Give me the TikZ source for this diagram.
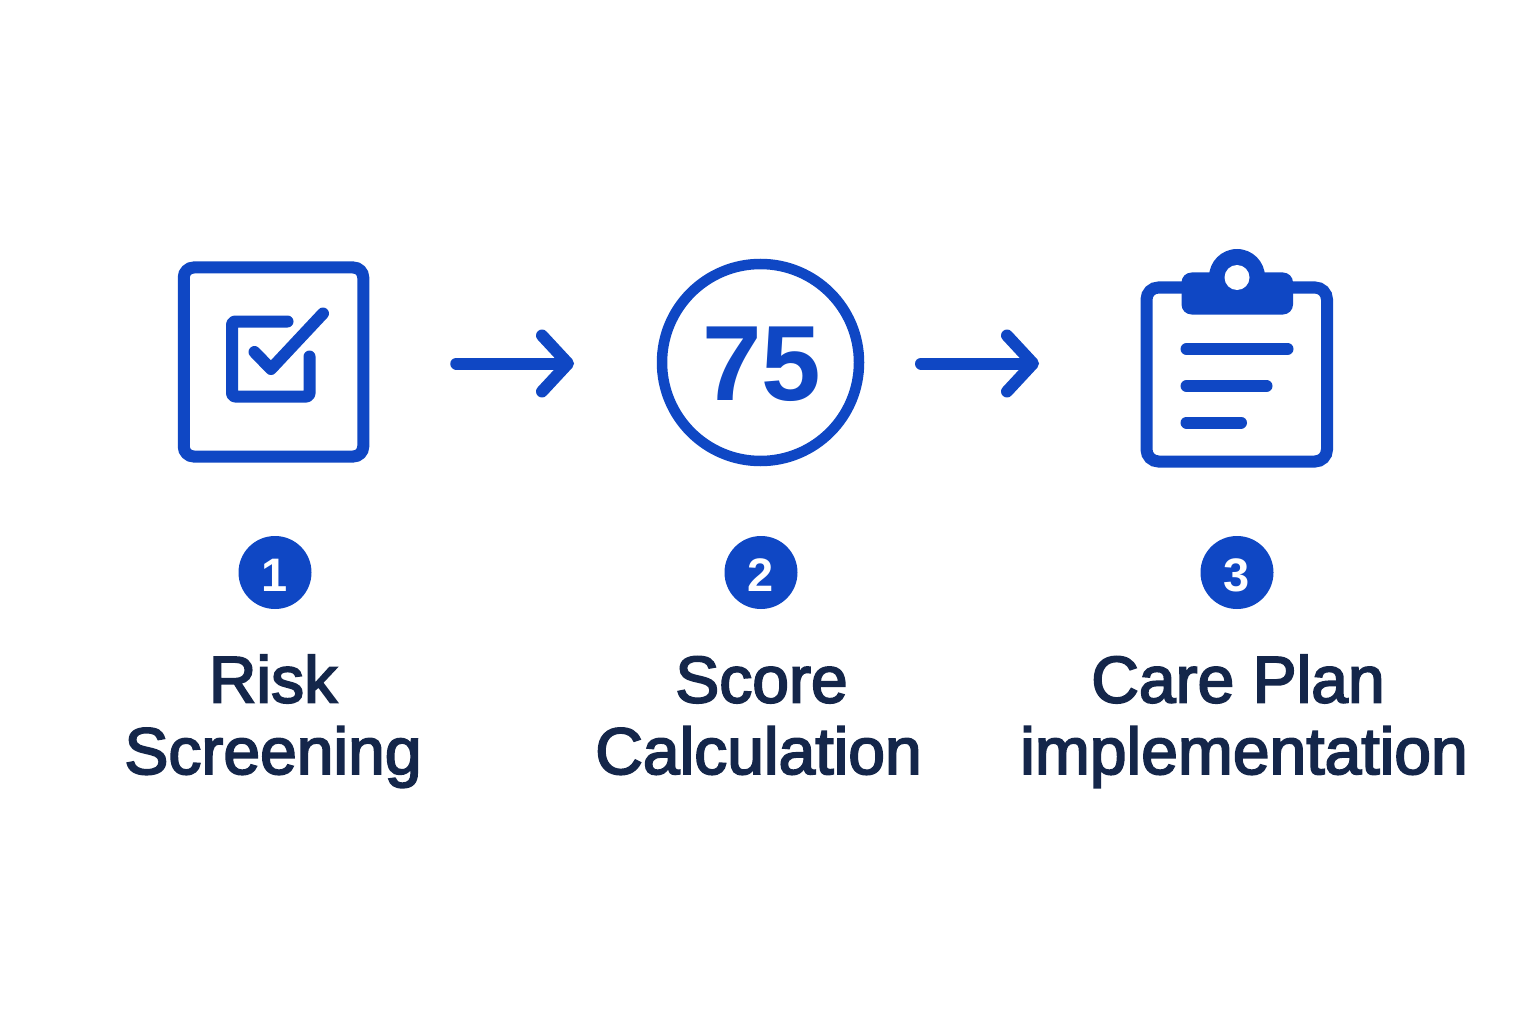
\documentclass[tikz,border=0pt]{standalone}
\usepackage{fontspec}
\setmainfont{Liberation Sans}
\newfontfamily\labelfont[FakeBold=2.8]{Liberation Sans}
\usetikzlibrary{arrows.meta}
\definecolor{brand}{HTML}{0F47C4}
\definecolor{ink}{HTML}{14264A}
\tikzset{
  x=1pt,y=-1pt,
  icon/.style={draw=brand,line width=12pt,fill=white,inner sep=0pt,outer sep=0pt},
  glyph/.style={draw=brand,line width=12pt,line cap=round,line join=round},
  flow/.style={draw=brand,line width=12pt,line cap=round,
    -{Straight Barb[length=26pt,width=56pt,round]}},
  badge/.style={circle,fill=brand,text=white,minimum size=73pt,inner sep=0pt,
    text height=37pt,text depth=0pt,
    font=\fontsize{47}{47}\selectfont\bfseries},
  caption/.style={text=ink,align=center,inner sep=0pt,anchor=base,
    font=\fontsize{66}{71.5}\selectfont\labelfont},
}
\begin{document}
\begin{tikzpicture}
\useasboundingbox (0,0) rectangle (1536,1024);
\fill[white] (0,0) rectangle (1536,1024);
% step 1 icon
\node[icon,rectangle,rounded corners=10pt,minimum width=179.5pt,minimum height=189pt] (check) at (273.5,362) {};
\draw[glyph,rounded corners=3pt] (287.5,321.5) -- (232,321.5) -- (232,396.5) -- (309.5,396.5) -- (309.5,356.5);
\draw[glyph] (254.5,352) -- (271,369) -- (323,313.5);
% step 2 icon
\node[icon,circle,line width=10.5pt,minimum size=197pt] (score) at (760.5,362.5) {};
\node[text=brand,inner sep=0pt,font=\fontsize{107}{107}\selectfont\bfseries] (scoreval) at (762,364.5) {75};
% step 3 icon
\node[icon,rectangle,rounded corners=12pt,minimum width=180.5pt,minimum height=174pt] (board) at (1236.75,374.5) {};
\fill[brand,rounded corners=10pt] (1181.5,272.5) rectangle (1293,314.5);
\fill[brand] (1237,277) circle[radius=28pt];
\fill[white] (1237,277.5) circle[radius=12.5pt];
\draw[glyph] (1186.5,349) -- (1287.5,349);
\draw[glyph] (1186.5,386) -- (1266.5,386);
\draw[glyph] (1186.5,422.5) -- (1241,422.5);
% connectors
\draw[flow,shorten <=93pt,shorten >=88pt] ([yshift=-1.5pt]check.east) -- ([yshift=-1.5pt]check.east -| score.west);
\draw[flow,shorten <=62pt,shorten >=107.5pt] ([yshift=-1pt]score.east) -- ([yshift=-1pt]score.east -| board.west);
% badges
\node[badge] (n1) at (275,572.5) {1};
\node[badge] (n2) at (761,572.5) {2};
\node[badge] (n3) at (1237,572.5) {3};
% captions
\node[caption] (c1) at (273,774) {Risk\\Screening};
\node[caption] (c2) at (758.5,774) {\hspace*{6pt}Score\\Calculation};
\node[caption] (c3) at (1244,774) {Care Plan\hspace*{12pt}\\implementation};
\end{tikzpicture}
\end{document}
